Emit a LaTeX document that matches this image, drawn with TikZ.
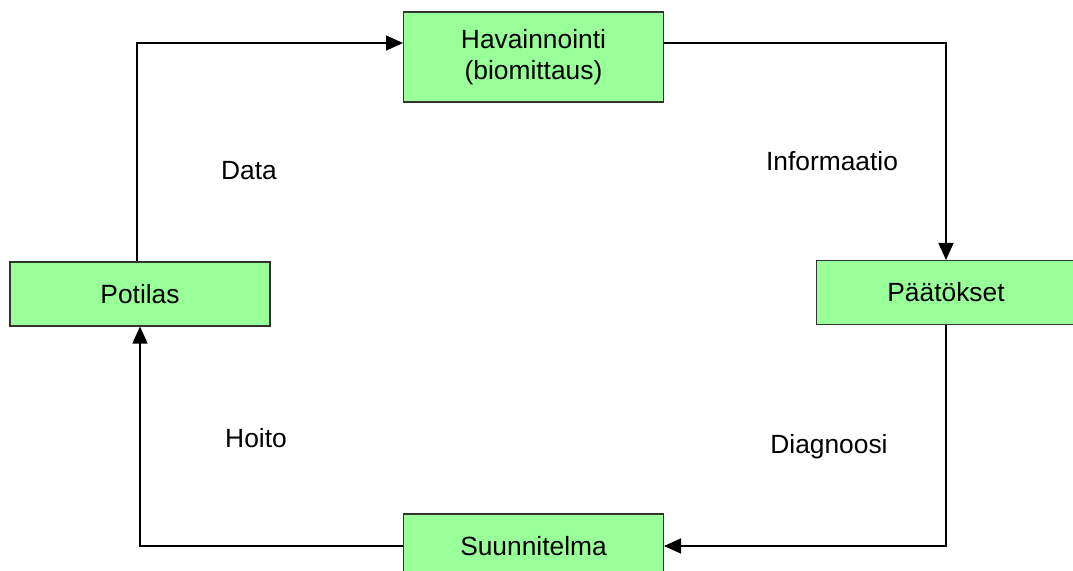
\documentclass[tikz,border=0pt]{standalone}
\usepackage{fontspec}
\setmainfont{Liberation Sans}
\usepackage{xcolor}
\usetikzlibrary{arrows.meta,positioning}

\definecolor{boxgreen}{HTML}{99FF99}

\begin{document}
\begin{tikzpicture}[x=0.02cm, y=-0.02cm, font=\fontsize{15}{18}\selectfont]
\tikzset{
  stagebox/.style={rectangle, draw=black!80, line width=0.6pt, fill=boxgreen, minimum width=5.2cm, minimum height=1.28cm, align=center},
  flow/.style={-{Triangle[length=0.34cm, width=0.3cm]}, line width=0.85pt}
}
\useasboundingbox (0,0) rectangle (1073,571);

\node (hav) [stagebox, minimum height=1.8cm] at (533.5,57) {Havainnointi\\(biomittaus)};
\node (pot) [stagebox] at (140,294) {Potilas};
\node (pat) [stagebox] at (946,292.5) {Päätökset};
\node (suu) [stagebox] at (533.5,546) {Suunnitelma};

\node (data) at (249,171) {Data};
\node (info) at (832,161) {Informaatio};
\node (hoito) at (256,438) {Hoito};
\node (diag) at (829,447) {Diagnoosi};

\draw[flow] ([xshift=-0.06cm]pot.north) |- ([yshift=0.28cm]hav.west);
\draw[flow] ([yshift=0.28cm]hav.east) -| (pat.north);
\draw[flow] (pat.south) |- (suu.east);
\draw[flow] (suu.west) -| (pot.south);
\end{tikzpicture}
\end{document}
